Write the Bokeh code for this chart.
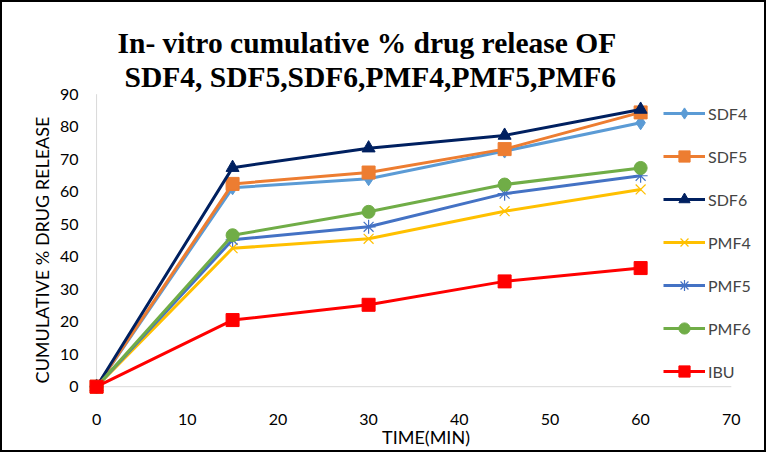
from bokeh.plotting import figure
from bokeh.models import Range1d, FixedTicker, Legend, LegendItem, Title
from bokeh.embed import file_html
from bokeh.resources import INLINE

# ---- data ----
time_min = [0, 15, 30, 45, 60]
sdf4 = [0, 61.2, 64.0, 72.5, 81.2]
sdf5 = [0, 62.4, 65.9, 73.1, 84.4]
sdf6 = [0, 67.4, 73.4, 77.3, 85.3]
pmf4 = [0, 42.6, 45.5, 54.0, 60.7]
pmf5 = [0, 45.2, 49.2, 59.4, 64.9]
pmf6 = [0, 46.6, 53.8, 62.2, 67.3]
ibu = [0, 20.5, 25.2, 32.4, 36.5]
series_names = ["SDF4", "SDF5", "SDF6", "PMF4", "PMF5", "PMF6", "IBU"]
x_ticks = [0, 10, 20, 30, 40, 50, 60, 70]
y_ticks = [0, 10, 20, 30, 40, 50, 60, 70, 80, 90]
title_line1 = "In- vitro cumulative %  drug release OF"
title_line2 = "SDF4, SDF5,SDF6,PMF4,PMF5,PMF6"
x_label = "TIME(MIN)"
y_label = "CUMULATIVE % DRUG RELEASE"

series_values = [sdf4, sdf5, sdf6, pmf4, pmf5, pmf6, ibu]
styles = [
    dict(color="#5B9BD5", marker="diamond", size=14, mlw=1),
    dict(color="#ED7D31", marker="square", size=13, mlw=1),
    dict(color="#002060", marker="triangle", size=13, mlw=1),
    dict(color="#FFC000", marker="x", size=14, mlw=1.2),
    dict(color="#4472C4", marker="asterisk", size=14, mlw=1.2),
    dict(color="#70AD47", marker="circle", size=13, mlw=1),
    dict(color="#FF0000", marker="square", size=13, mlw=1),
]

p = figure(
    frame_width=677, frame_height=315,
    min_border_left=85, min_border_right=0, min_border_top=90, min_border_bottom=30,
    x_range=Range1d(-1, 73.66), y_range=Range1d(-6.4, 90.52),
    output_backend="svg", toolbar_location=None,
)
p.styles = {"border": "2px solid black"}
p.outline_line_color = None
p.xgrid.visible = False
p.ygrid.visible = False
p.background_fill_color = "white"
p.border_fill_color = "white"

title_font = dict(text_font="Liberation Serif", text_font_style="bold",
                  text_font_size="29.5px", text_color="#000000")
p.title.text = title_line1
p.title.align = "left"
p.title.offset = 30
p.title.standoff = 0
for k, v in title_font.items():
    setattr(p.title, k, v)
p.add_layout(Title(text=title_line2, align="left", offset=37, standoff=0, **title_font), "above")

tick_font = "Lato"
for ax in (p.xaxis[0], p.yaxis[0]):
    ax.major_tick_line_color = None
    ax.minor_tick_line_color = None
    ax.axis_line_color = None
    ax.major_label_text_font = tick_font
    ax.major_label_text_font_size = "16px"
    ax.major_label_text_color = "#000000"
    ax.axis_label_text_font = tick_font
    ax.axis_label_text_font_size = "18px"
    ax.axis_label_text_font_style = "normal"
    ax.axis_label_text_color = "#000000"

xa = p.xaxis[0]
xa.ticker = FixedTicker(ticks=x_ticks)
xa.major_label_standoff = 0
xa.axis_label = x_label
xa.axis_label_standoff = -2

ya = p.yaxis[0]
ya.ticker = FixedTicker(ticks=y_ticks)
ya.major_label_standoff = 3
ya.axis_label = y_label
ya.axis_label_standoff = 4

# axis lines drawn at the data zero lines
axis_color = "#D9D9D9"
p.line([x_ticks[0], x_ticks[-1]], [y_ticks[0], y_ticks[0]], line_color=axis_color, line_width=1)
p.line([x_ticks[0], x_ticks[0]], [y_ticks[0], y_ticks[-1]], line_color=axis_color, line_width=1)

items = []
for name, vals, st in zip(series_names, series_values, styles):
    ln = p.line(time_min, vals, line_color=st["color"], line_width=3)
    sc = p.scatter(time_min, vals, marker=st["marker"], size=st["size"],
                   fill_color=st["color"], line_color=st["color"], line_width=st["mlw"])
    items.append(LegendItem(label=name, renderers=[ln, sc]))

legend = Legend(
    items=items, location=(576, 22),
    glyph_width=42, glyph_height=28, label_standoff=3, spacing=15,
    padding=0, margin=0, border_line_color=None, background_fill_alpha=0,
    label_text_font=tick_font, label_text_font_size="16px", label_height=28,
)
p.add_layout(legend)

open("out.html", "w").write(file_html(p, INLINE))
